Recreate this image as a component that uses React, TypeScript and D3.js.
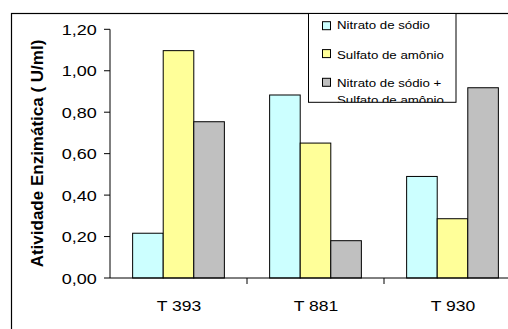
import React from "react";
import * as d3 from "d3";

const categories = ["T 393", "T 881", "T 930"];
const seriesNames = ["Nitrato de sódio", "Sulfato de amônio", "Nitrato de sódio + Sulfato de amônio"];
const nitrato = [0.216, 0.883, 0.49];
const sulfato = [1.097, 0.651, 0.286];
const mistura = [0.754, 0.18, 0.918];
const yTicks = [0, 0.2, 0.4, 0.6, 0.8, 1.0, 1.2];
const colors = ["#CCFFFF", "#FFFF99", "#C0C0C0"];
const yTitle = "Atividade Enzimática ( U/ml)";

const W = 508;
const H = 329;
const FONT = "Arial, 'Liberation Sans', sans-serif";

export default function App() {
  const series = [nitrato, sulfato, mistura];
  const y = d3.scaleLinear().domain([0, 1.2]).range([278, 29.3]);
  const x0 = d3.scaleBand<string>().domain(categories).range([110, 521]).paddingInner(0).paddingOuter(0);
  const x1 = d3
    .scaleBand<number>()
    .domain([0, 1, 2])
    .range([0, x0.bandwidth()])
    .paddingInner(0)
    .paddingOuter(0.74);
  const fmt = (v: number) => d3.format(".2f")(v).replace(".", ",");
  const boundaries = categories.map((c) => (x0(c) as number) + x0.bandwidth());

  const legendRows = [
    { y: 29, sq: 21.7 },
    { y: 59.3, sq: 49.6 },
    { y: 87.3, sq: 78.3 },
  ];

  return (
    <svg
      width={W}
      height={H}
      style={{ position: "absolute", left: 0, top: 0, background: "#fff" }}
      fontFamily={FONT}
    >
      <defs>
        <clipPath id="legclip">
          <rect x={308.5} y={13.5} width={147.5} height={88.8} />
        </clipPath>
      </defs>
      <rect x={0} y={0} width={W} height={H} fill="#fff" />
      {/* outer frame */}
      <rect x={11.5} y={13.5} width={700} height={500} fill="none" stroke="#000" strokeWidth={1.2} />

      {/* bars */}
      {categories.map((c, ci) =>
        series.map((s, si) => (
          <rect
            key={c + si}
            x={(x0(c) as number) + (x1(si) as number)}
            y={y(s[ci])}
            width={x1.bandwidth()}
            height={y(0) - y(s[ci])}
            fill={colors[si]}
            stroke="#000"
            strokeWidth={1}
          />
        ))
      )}

      {/* y axis */}
      <line x1={110} x2={110} y1={y(0)} y2={y(1.2)} stroke="#000" />
      {yTicks.map((t) => (
        <g key={t}>
          <line x1={104} x2={110} y1={y(t)} y2={y(t)} stroke="#000" />
          <text
            transform={`translate(96.7,${y(t) + 5.6}) scale(1.2,1)`}
            textAnchor="end"
            fontSize={15}
            fill="#000"
          >
            {fmt(t)}
          </text>
        </g>
      ))}

      {/* x axis */}
      <line x1={110} x2={521} y1={y(0)} y2={y(0)} stroke="#000" />
      {boundaries.map((b, i) => (
        <line key={i} x1={b} x2={b} y1={y(0)} y2={y(0) + 6} stroke="#000" />
      ))}
      {categories.map((c) => (
        <text
          key={c}
          transform={`translate(${(x0(c) as number) + x0.bandwidth() / 2 + 0.5},310.7) scale(1.17,1)`}
          textAnchor="middle"
          fontSize={15}
          fill="#000"
        >
          {c}
        </text>
      ))}

      {/* y title */}
      <text
        transform={`translate(43,153.5) rotate(-90)`}
        textAnchor="middle"
        fontSize={17}
        fontWeight="bold"
        fill="#000"
      >
        {yTitle}
      </text>

      {/* legend */}
      <rect x={308.5} y={13.5} width={147.5} height={88.8} fill="#fff" stroke="#000" strokeWidth={1} />
      <g clipPath="url(#legclip)">
        {seriesNames.map((n, i) => {
          const r = legendRows[i];
          const lines = i === 2 ? ["Nitrato de sódio +", "Sulfato de amônio"] : [n];
          return (
            <g key={n}>
              <rect x={322.5} y={r.sq} width={8} height={8} fill={colors[i]} stroke="#000" strokeWidth={1} />
              {lines.map((l, li) => (
                <text
                  key={li}
                  transform={`translate(337,${r.y + li * 16.5}) scale(1.155,1)`}
                  fontSize={11.5}
                  fill="#000"
                >
                  {l}
                </text>
              ))}
            </g>
          );
        })}
      </g>
    </svg>
  );
}
